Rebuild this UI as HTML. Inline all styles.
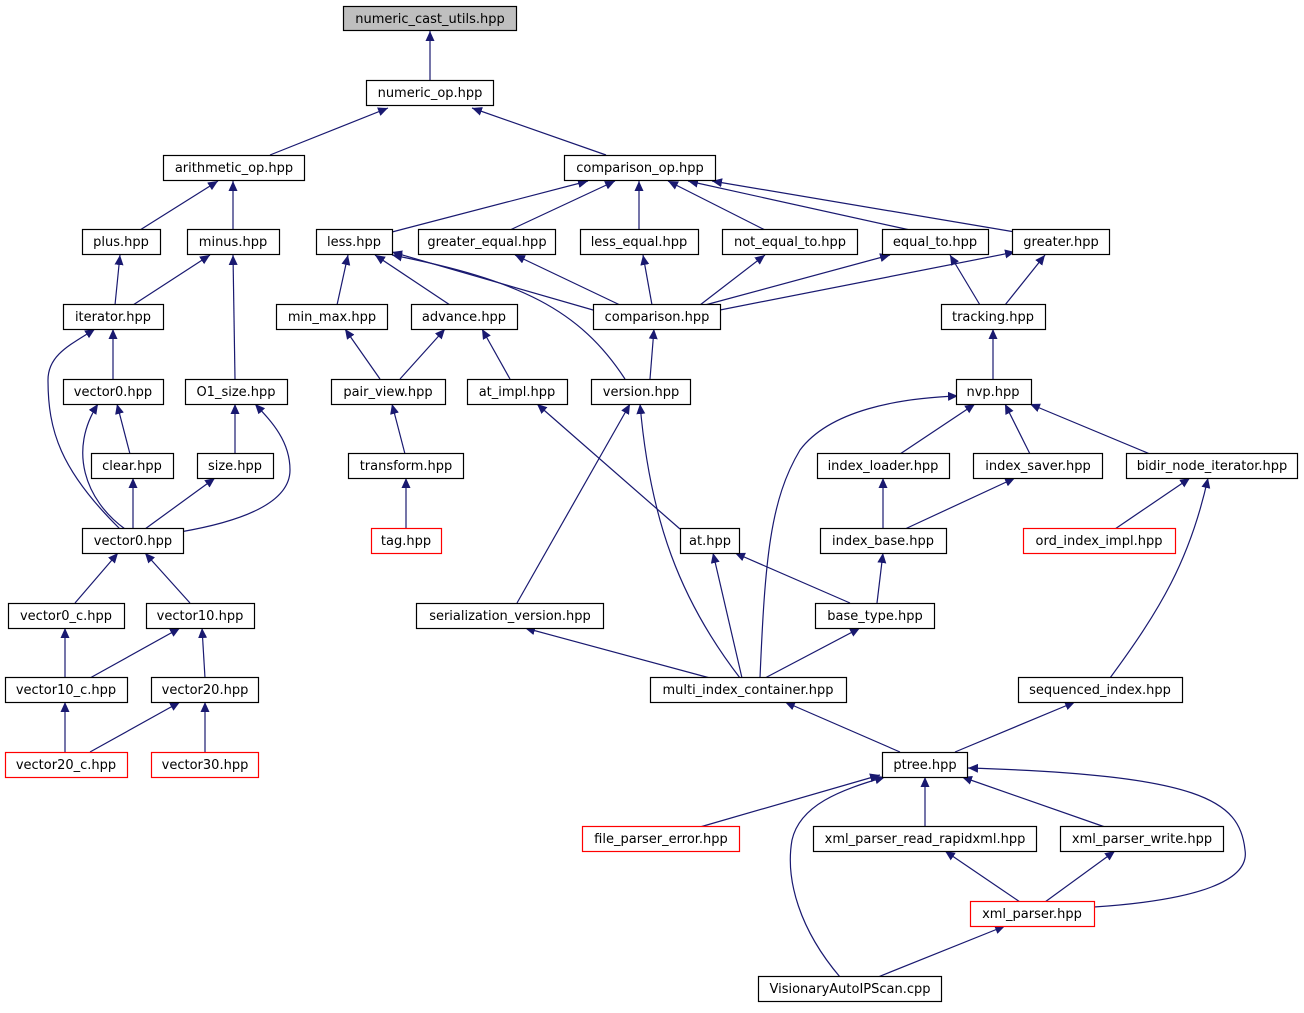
<!DOCTYPE html>
<html><head><meta charset="utf-8"><style>
html,body{margin:0;padding:0;background:#fff;}
svg text{font-family:"DejaVu Sans","Liberation Sans",sans-serif;font-size:13px;text-anchor:middle;}
</style></head><body>
<svg width="1304" height="1008" viewBox="0 0 1304 1008" xmlns="http://www.w3.org/2000/svg">
<defs><marker id="a" markerWidth="11" markerHeight="10" refX="10" refY="4.5" orient="auto" markerUnits="userSpaceOnUse"><path d="M0,0 L10,4.5 L0,9 z" fill="#191970"/></marker></defs>
<g fill="none" stroke="#191970" stroke-width="1.2" marker-end="url(#a)">
<path d="M430,80 L430,31"/>
<path d="M270,155 L388,108"/>
<path d="M606,155 L472,108"/>
<path d="M140,230 L218,181"/>
<path d="M233,230 L233,181"/>
<path d="M392,232 L588,181"/>
<path d="M510,230 L615,181"/>
<path d="M639,230 L639,181"/>
<path d="M765,230 L668,181"/>
<path d="M910,230 L688,181"/>
<path d="M1015,232 L712,181"/>
<path d="M115,305 L120,255"/>
<path d="M133,305 L210,255"/>
<path d="M235,379 L233,255"/>
<path d="M337,305 L348,255"/>
<path d="M450,305 L375,255"/>
<path d="M600,312 L392,252"/>
<path d="M625,379 C580,310 520,280 392,255"/>
<path d="M620,305 L515,255"/>
<path d="M652,305 L643,255"/>
<path d="M700,305 L765,255"/>
<path d="M705,305 L890,255"/>
<path d="M720,310 L1015,252"/>
<path d="M980,305 L950,255"/>
<path d="M1005,305 L1045,255"/>
<path d="M113,379 L113,329"/>
<path d="M120,529 C60,470 48,430 48,380 C48,355 70,345 95,329"/>
<path d="M380,379 L345,329"/>
<path d="M400,379 L445,329"/>
<path d="M510,379 L482,329"/>
<path d="M650,379 L654,329"/>
<path d="M993,379 L993,329"/>
<path d="M130,454 L117,404"/>
<path d="M125,529 C85,500 68,450 98,404"/>
<path d="M180,532 C250,520 290,500 290,470 C290,440 270,420 255,404"/>
<path d="M235,454 L235,404"/>
<path d="M405,454 L392,404"/>
<path d="M680,529 L537,404"/>
<path d="M517,603 L630,404"/>
<path d="M740,678 C680,600 650,520 640,404"/>
<path d="M760,678 C765,560 770,500 800,450 C830,410 900,398 958,396"/>
<path d="M900,454 L975,404"/>
<path d="M1030,454 L1005,404"/>
<path d="M1150,454 L1030,404"/>
<path d="M133,529 L133,478"/>
<path d="M145,529 L215,478"/>
<path d="M406,529 L406,478"/>
<path d="M883,529 L883,478"/>
<path d="M905,529 L1015,478"/>
<path d="M1115,529 L1190,478"/>
<path d="M1110,678 C1160,610 1190,560 1208,478"/>
<path d="M75,603 L118,553"/>
<path d="M190,603 L145,553"/>
<path d="M850,603 L735,553"/>
<path d="M877,603 L883,553"/>
<path d="M742,678 L713,553"/>
<path d="M710,678 L525,628"/>
<path d="M765,678 L860,628"/>
<path d="M65,678 L65,628"/>
<path d="M90,678 L180,628"/>
<path d="M205,678 L202,628"/>
<path d="M65,752 L65,702"/>
<path d="M90,752 L180,702"/>
<path d="M205,752 L205,702"/>
<path d="M900,752 L785,702"/>
<path d="M955,752 L1075,702"/>
<path d="M700,827 L880,775"/>
<path d="M925,827 L925,777"/>
<path d="M1105,827 L962,777"/>
<path d="M1020,902 L945,851"/>
<path d="M1045,902 L1115,851"/>
<path d="M1094,907 C1200,900 1250,880 1245,850 C1240,800 1200,775 968,768"/>
<path d="M840,977 C800,930 785,880 792,840 C800,805 840,790 885,777"/>
<path d="M878,977 L1005,926"/>
</g>
<g stroke-width="1.2" fill="#fff">
<rect x="343.5" y="6.5" width="173" height="24" fill="#bfbfbf" stroke="#000"/>
<rect x="366.5" y="80.5" width="127" height="25" stroke="#000"/>
<rect x="163.5" y="155.5" width="141" height="25" stroke="#000"/>
<rect x="564.5" y="155.5" width="151" height="25" stroke="#000"/>
<rect x="82.5" y="229.5" width="78" height="25" stroke="#000"/>
<rect x="187.5" y="229.5" width="92" height="25" stroke="#000"/>
<rect x="316.5" y="229.5" width="76" height="25" stroke="#000"/>
<rect x="418.5" y="229.5" width="137" height="25" stroke="#000"/>
<rect x="580.5" y="229.5" width="118" height="25" stroke="#000"/>
<rect x="722.5" y="229.5" width="135" height="25" stroke="#000"/>
<rect x="882.5" y="229.5" width="106" height="25" stroke="#000"/>
<rect x="1012.5" y="229.5" width="97" height="25" stroke="#000"/>
<rect x="63.5" y="304.5" width="100" height="25" stroke="#000"/>
<rect x="276.5" y="304.5" width="111" height="25" stroke="#000"/>
<rect x="411.5" y="304.5" width="106" height="25" stroke="#000"/>
<rect x="593.5" y="304.5" width="127" height="25" stroke="#000"/>
<rect x="941.5" y="304.5" width="104" height="25" stroke="#000"/>
<rect x="63.5" y="379.5" width="100" height="25" stroke="#000"/>
<rect x="185.5" y="379.5" width="102" height="25" stroke="#000"/>
<rect x="331.5" y="379.5" width="114" height="25" stroke="#000"/>
<rect x="467.5" y="379.5" width="100" height="25" stroke="#000"/>
<rect x="591.5" y="379.5" width="99" height="25" stroke="#000"/>
<rect x="956.5" y="379.5" width="75" height="25" stroke="#000"/>
<rect x="91.5" y="453.5" width="82" height="25" stroke="#000"/>
<rect x="197.5" y="453.5" width="76" height="25" stroke="#000"/>
<rect x="348.5" y="453.5" width="115" height="25" stroke="#000"/>
<rect x="817.5" y="453.5" width="132" height="25" stroke="#000"/>
<rect x="973.5" y="453.5" width="129" height="25" stroke="#000"/>
<rect x="1126.5" y="453.5" width="171" height="25" stroke="#000"/>
<rect x="82.5" y="528.5" width="101" height="25" stroke="#000"/>
<rect x="371.5" y="528.5" width="70" height="25" stroke="#f00"/>
<rect x="680.5" y="528.5" width="59" height="25" stroke="#000"/>
<rect x="820.5" y="528.5" width="126" height="25" stroke="#000"/>
<rect x="1023.5" y="528.5" width="152" height="25" stroke="#f00"/>
<rect x="8.5" y="603.5" width="116" height="25" stroke="#000"/>
<rect x="146.5" y="603.5" width="108" height="25" stroke="#000"/>
<rect x="416.5" y="603.5" width="187" height="25" stroke="#000"/>
<rect x="815.5" y="603.5" width="119" height="25" stroke="#000"/>
<rect x="5.5" y="677.5" width="122" height="25" stroke="#000"/>
<rect x="151.5" y="677.5" width="107" height="25" stroke="#000"/>
<rect x="650.5" y="677.5" width="196" height="25" stroke="#000"/>
<rect x="1018.5" y="677.5" width="164" height="25" stroke="#000"/>
<rect x="5.5" y="752.5" width="122" height="25" stroke="#f00"/>
<rect x="151.5" y="752.5" width="107" height="25" stroke="#f00"/>
<rect x="882.5" y="752.5" width="85" height="25" stroke="#000"/>
<rect x="582.5" y="826.5" width="157" height="25" stroke="#f00"/>
<rect x="813.5" y="826.5" width="223" height="25" stroke="#000"/>
<rect x="1060.5" y="826.5" width="163" height="25" stroke="#000"/>
<rect x="970.5" y="901.5" width="124" height="25" stroke="#f00"/>
<rect x="758.5" y="976.5" width="183" height="25" stroke="#000"/>
</g>
<g fill="#000">
<text x="430" y="23">numeric_cast_utils.hpp</text>
<text x="430" y="97">numeric_op.hpp</text>
<text x="234" y="172">arithmetic_op.hpp</text>
<text x="640" y="172">comparison_op.hpp</text>
<text x="121" y="246">plus.hpp</text>
<text x="233" y="246">minus.hpp</text>
<text x="354" y="246">less.hpp</text>
<text x="487" y="246">greater_equal.hpp</text>
<text x="639" y="246">less_equal.hpp</text>
<text x="790" y="246">not_equal_to.hpp</text>
<text x="935" y="246">equal_to.hpp</text>
<text x="1061" y="246">greater.hpp</text>
<text x="113" y="321">iterator.hpp</text>
<text x="332" y="321">min_max.hpp</text>
<text x="464" y="321">advance.hpp</text>
<text x="657" y="321">comparison.hpp</text>
<text x="993" y="321">tracking.hpp</text>
<text x="113" y="396">vector0.hpp</text>
<text x="236" y="396">O1_size.hpp</text>
<text x="388" y="396">pair_view.hpp</text>
<text x="517" y="396">at_impl.hpp</text>
<text x="641" y="396">version.hpp</text>
<text x="993" y="396">nvp.hpp</text>
<text x="132" y="470">clear.hpp</text>
<text x="235" y="470">size.hpp</text>
<text x="406" y="470">transform.hpp</text>
<text x="883" y="470">index_loader.hpp</text>
<text x="1038" y="470">index_saver.hpp</text>
<text x="1212" y="470">bidir_node_iterator.hpp</text>
<text x="133" y="545">vector0.hpp</text>
<text x="406" y="545">tag.hpp</text>
<text x="710" y="545">at.hpp</text>
<text x="883" y="545">index_base.hpp</text>
<text x="1099" y="545">ord_index_impl.hpp</text>
<text x="66" y="620">vector0_c.hpp</text>
<text x="200" y="620">vector10.hpp</text>
<text x="510" y="620">serialization_version.hpp</text>
<text x="875" y="620">base_type.hpp</text>
<text x="66" y="694">vector10_c.hpp</text>
<text x="205" y="694">vector20.hpp</text>
<text x="748" y="694">multi_index_container.hpp</text>
<text x="1100" y="694">sequenced_index.hpp</text>
<text x="66" y="769">vector20_c.hpp</text>
<text x="205" y="769">vector30.hpp</text>
<text x="925" y="769">ptree.hpp</text>
<text x="661" y="843">file_parser_error.hpp</text>
<text x="925" y="843">xml_parser_read_rapidxml.hpp</text>
<text x="1142" y="843">xml_parser_write.hpp</text>
<text x="1032" y="918">xml_parser.hpp</text>
<text x="850" y="993">VisionaryAutoIPScan.cpp</text>
</g>
</svg>
</body></html>
